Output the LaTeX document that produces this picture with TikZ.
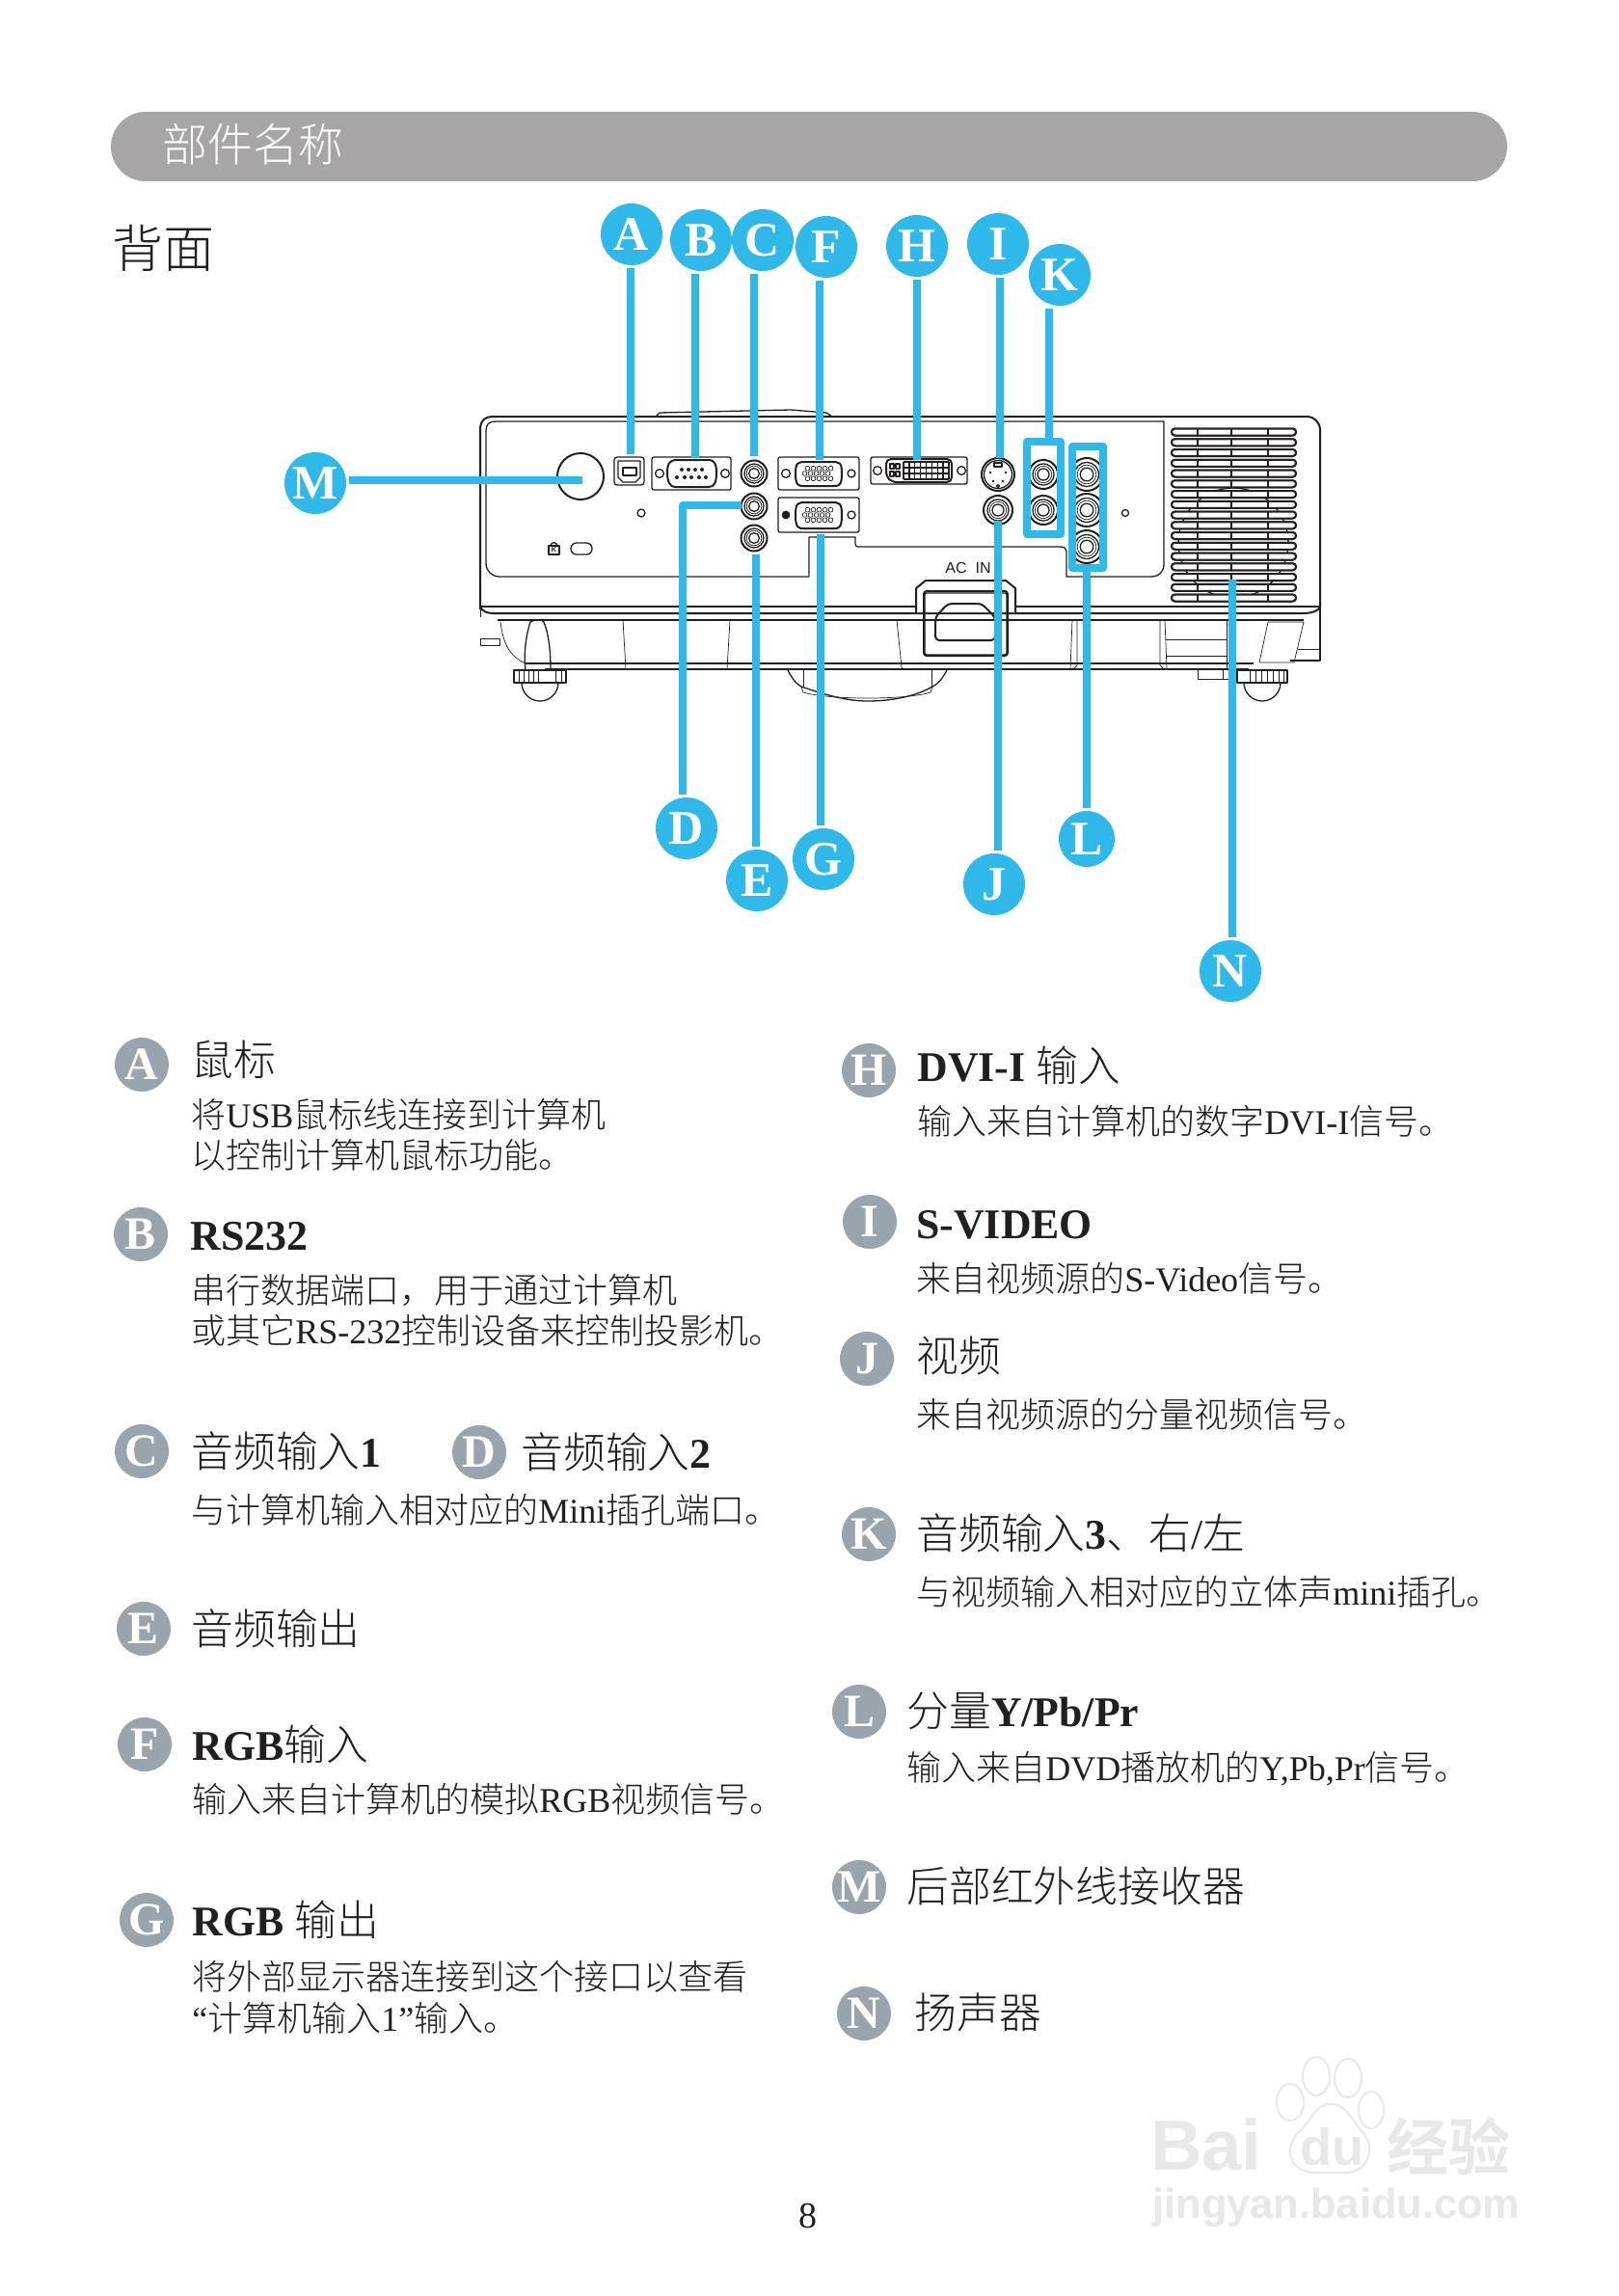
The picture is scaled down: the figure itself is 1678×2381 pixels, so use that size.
\documentclass[tikz,border=0pt]{standalone}
\usepackage{fontspec}
\setmainfont{Liberation Serif}
\newfontfamily\cjk{Noto Sans CJK SC Light}
\newfontfamily\hlv{Liberation Sans}
\newcommand{\zh}[1]{{\cjk #1}}
\definecolor{bluec}{HTML}{2FB8EA}
\definecolor{grayc}{HTML}{9AA4AD}
\definecolor{barc}{HTML}{A7A5A6}
\definecolor{inkc}{HTML}{231F20}
\definecolor{markc}{HTML}{E8E8E8}
\tikzset{
  bluedot/.style={circle,fill=bluec,text=white,minimum size=32pt,inner sep=0pt,outer sep=1.5pt,font=\fontsize{25}{25}\selectfont\bfseries},
  graydot/.style={circle,fill=grayc,text=white,minimum size=28pt,inner sep=0pt,font=\fontsize{24}{24}\selectfont\bfseries},
  link/.style={draw=bluec,line width=3.8pt},
  thick line/.style={draw=inkc,line width=1pt},
  mid line/.style={draw=inkc,line width=.65pt},
  thin line/.style={draw=inkc,line width=.35pt},
  headtext/.style={anchor=mid west,inner sep=0pt,xshift=-.5pt,yshift=-6pt,text=inkc,font=\fontsize{21.9}{21.9}\selectfont},
  bodytext/.style={anchor=mid west,inner sep=0pt,xshift=-.5pt,yshift=-4.5pt,text=inkc,font=\fontsize{18}{18}\selectfont}
}
% an audio or video jack: centre x, centre y, radius
\newcommand{\jackport}[3]{%
  \fill[white] (#1,#2) circle[radius=#3*.5pt];
  \draw[thick line] (#1,#2) circle[radius=#3*.5pt];
  \draw[mid line] (#1,#2) circle[radius=#3*.37pt];
  \draw[thin line] (#1,#2) circle[radius=#3*.29pt];
  \draw[mid line] (#1,#2) circle[radius=#3*.2pt];
}
% a plate with two screws and a VGA shell: left, top, right, bottom
\newcommand{\vgaport}[4]{%
  \draw[mid line,rounded corners=1pt] (#1,#2) rectangle (#3,#4);
  \draw[thick line] (#1+18,{(#2+#4)/2+1}) .. controls (#1+18,#2+5) and (#1+20,#2+5) .. (#1+30,#2+5) -- (#3-30,#2+5)
     .. controls (#3-20,#2+5) and (#3-18,#2+5) .. (#3-18,{(#2+#4)/2+1}) .. controls (#3-18,#4-4) and (#3-22,#4-4) .. (#3-26,#4-4)
     -- (#1+26,#4-4) .. controls (#1+22,#4-4) and (#1+18,#4-4) .. cycle;
  \foreach \r/\o in {-5.3/0,0/-3,5.3/0}
    \foreach \c in {0,1,2,3,4}
      \draw[thin line] ({(#1+#3)/2-12+\c*6+\o+0.5},{(#2+#4)/2+\r}) circle[radius=1.2pt];
  \draw[mid line] (#3-8,{(#2+#4)/2}) circle[radius=2pt];
}
\begin{document}
\begin{tikzpicture}[x=0.5pt,y=-0.5pt,line join=round]
\useasboundingbox (0,0) rectangle (1678,2381);
\fill[white] (0,0) rectangle (1678,2381);

% header
\fill[barc,rounded corners=18pt] (115,116) rectangle (1563,188);
\node[anchor=mid west,inner sep=0pt,yshift=-6.8pt,text=white,font=\fontsize{23.5}{23.5}\selectfont] (title) at (168,149) {\zh{部件名称}};
\node[anchor=mid west,inner sep=0pt,yshift=-7.5pt,text=inkc,font=\fontsize{26.5}{26.5}\selectfont] (sub) at (116,258) {\zh{背面}};

% projector body
\draw[mid line] (680,432) -- (684,428) -- (820,425) -- (857,428) -- (863,432);
\draw[thick line] (498,632) -- (498,446) .. controls (498,436) and (503,432) .. (512,432) -- (1355,432) .. controls (1363,432) and (1369,438) .. (1369,446) -- (1369,630);
\draw[mid line] (504,447) .. controls (504,440) and (507,437) .. (514,437) -- (1207,437) -- (1207,585) .. controls (1207,593) and (1202,598) .. (1193,598) -- (1106,598) -- (1106,572) .. controls (1106,569) and (1104,567) .. (1100,567) -- (890,567) .. controls (888,567) and (887,566) .. (887,564) -- (887,557) -- (839,557) -- (839,598) -- (518,598) .. controls (510,598) and (504,592) .. (504,584) -- cycle;
\draw[thick line] (498,629) -- (1369,629);
\draw[thick line] (498,630) .. controls (501,634) and (505,636) .. (512,636) -- (1350,636) .. controls (1360,636) and (1366,634) .. (1369,630);
\draw[mid line] (516,643) -- (1352,643);
\draw[mid line] (545,688) -- (1300,688);
\draw[mid line] (565,694) -- (1295,694);
\draw[thin line] (498,632) -- (498,640);
\draw[mid line] (1369,630) -- (1369,685) -- (1338,685);
\draw[thin line] (1346,673) -- (1369,673);
\draw[thin line] (498,662) rectangle (518,669);
% ribs
\draw[thin line] (646,643) -- (649,694);
\draw[thin line] (757,643) -- (754,694);
\draw[thin line] (930,643) -- (935,692) -- (937,694);
\draw[thin line] (1112,643) -- (1110,694);
\draw[thin line] (1117,643) -- (1117,690) -- (1113,694);
\draw[thin line] (1203,643) -- (1203,690) -- (1207,694);
\draw[thin line] (1208,643) -- (1210,694);
\draw[thin line] (1209,663) -- (1273,663);
\draw[thin line] (1209,680) -- (1273,680);
\draw[thin line] (1272,643) -- (1272,694);
% left foot
\draw[thin line] (519,645) .. controls (522,668) and (528,680) .. (545,688);
\draw[mid line] (545,695) .. controls (543,680) and (545,660) .. (550,645) .. controls (555,642) and (562,642) .. (564,645) .. controls (570,660) and (571,680) .. (571,695);
\fill[white] (533,695) rectangle (587,708);
\draw[mid line] (541,708) arc[start angle=180,end angle=0,x radius=19,y radius=19];
\draw[mid line] (533,695) rectangle (587,708);
\foreach \x in {538,543,548,553,558,576,582} \draw[thin line] (\x,695) -- (\x,708);
% right foot
\draw[thin line] (1315,645) -- (1352,645) -- (1342,687) -- (1306,687) -- cycle;
\draw[thin line] (1242,695) -- (1242,704) -- (1283,704);
\draw[thin line] (1268,695) -- (1268,704);
\draw[mid line] (1290,708) arc[start angle=180,end angle=0,x radius=19,y radius=19];
\draw[mid line] (1283,695) rectangle (1335,708);
\foreach \x in {1296,1302,1308,1314,1320,1326,1331} \draw[thin line] (\x,695) -- (\x,708);
% lens
\draw[mid line] (817,695) .. controls (822,705) and (827,710) .. (831,712) .. controls (860,722) and (880,727) .. (900,727) .. controls (925,727) and (950,722) .. (967,712) .. controls (975,708) and (978,702) .. (982,695);
\draw[thin line] (831,712) -- (833,718) .. controls (860,726) and (940,726) .. (965,718) -- (967,712);
\draw[thin line] (833,695) -- (833,712);
\draw[thin line] (966,695) -- (966,712);

% mains inlet
\node[anchor=mid,inner sep=0pt,text=inkc,font=\hlv\fontsize{8}{8}\selectfont] (acin) at (1004,590) {AC\ \ IN};
\draw[thick line,fill=white] (950,635) -- (950,610) -- (960,602) -- (1043,602) -- (1053,610) -- (1053,635);
\draw[thick line,rounded corners=1.5pt] (958,613) rectangle (1045,680);
\draw[mid line,rounded corners=1pt] (959,615) rectangle (1044,679);
\draw[thick line,rounded corners=2pt] (970,640) -- (983,626) -- (1018,626) -- (1032,640) -- (1032,664) -- (970,664) -- cycle;

% speaker and vents
\foreach \i in {0,...,16} {
  \draw[thick line,fill=white,rounded corners=1.7pt] (1215,{444.5+\i*10.75}) rectangle (1344,{451.5+\i*10.75});
}
\draw[mid line] (1279,563) circle[radius=57];
\foreach \i in {0,...,16} {
  \draw[thick line,fill=white,rounded corners=1.7pt] (1215,{444.5+\i*10.75}) rectangle (1344,{451.5+\i*10.75});
}
\foreach \x in {1242,1277,1315}
  \foreach \i in {0,...,16}
    \draw[mid line] (\x,{444.5+\i*10.75}) -- (\x,{451.5+\i*10.75});

% IR window, lock, dots
\draw[thick line] (602,494) circle[radius=24];
\draw[mid line] (665,532) circle[radius=4];
\draw[mid line] (1167,532) circle[radius=3.5];
\draw[mid line] (569,566) rectangle (580,575);
\draw[mid line] (571,566) arc[start angle=180,end angle=0,x radius=3.4,y radius=-3.4];
\node[inner sep=0pt,text=inkc,font=\hlv\bfseries\fontsize{3.6}{4}\selectfont] (lockk) at (574.5,570.5) {K};
\draw[mid line,rounded corners=2.9pt] (592,563) rectangle (614,575);

% USB
\draw[mid line,rounded corners=1.5pt] (637,474) rectangle (668,503);
\draw[mid line] (641,478) -- (664,478) -- (664,495) -- (659,500) -- (646,500) -- (641,495) -- cycle;
\draw[mid line] (646,485) rectangle (660,493);

% RS232
\draw[mid line,rounded corners=1pt] (676,474) rectangle (758,508);
\draw[mid line] (684,491) circle[radius=2.2pt];
\draw[mid line] (752,491) circle[radius=2.2pt];
\draw[thick line] (692,490) .. controls (692,480) and (695,477) .. (702,477) -- (735,477) .. controls (740,477) and (743,480) .. (743,490) .. controls (743,500) and (741,505) .. (735,505) -- (700,505) .. controls (695,505) and (692,500) .. cycle;
\foreach \x in {707,714,721,728} \fill[inkc] (\x,487) circle[radius=2];
\foreach \x in {702,710,717,725,732} \fill[inkc] (\x,495) circle[radius=2];

% audio
\jackport{782}{491}{13.5}
\jackport{782}{525}{13.5}
\jackport{782}{558}{13.5}

% RGB in and out
\vgaport{807}{474}{891}{508}
\draw[mid line] (815,491) circle[radius=2.2pt];
\vgaport{807}{516}{891}{552}
\fill[inkc] (815,534) circle[radius=2.2pt];

% DVI
\draw[mid line,rounded corners=1pt] (903,474) rectangle (1003,502);
\draw[mid line] (910,488) circle[radius=2.2pt];
\draw[mid line] (997,488) circle[radius=2.2pt];
\draw[thick line,rounded corners=2.5pt] (919,476) -- (987,476) -- (987,500) -- (925,500) -- (919,494) -- cycle;
\foreach \r in {0,1,2,3} \draw[mid line] (937,{479+\r*6}) -- (984,{479+\r*6});
\foreach \c in {0,...,8} \draw[mid line] ({937+\c*5.87},479) -- ({937+\c*5.87},497);
\draw[mid line] (923,481) rectangle (927,486);
\draw[mid line] (929,481) rectangle (933,486);
\draw[mid line] (923,489) rectangle (927,494);
\draw[mid line] (929,489) rectangle (933,494);

% S-video
\draw[thick line] (1035,492) circle[radius=17];
\draw[mid line] (1035,492) circle[radius=14.5];
\draw[mid line] (1031,480) rectangle (1039,484);
\fill[inkc] (1027,490) circle[radius=1.4];
\fill[inkc] (1043,490) circle[radius=1.4];
\fill[inkc] (1030,499) circle[radius=1.4];
\fill[inkc] (1040,499) circle[radius=1.4];
\draw[mid line] (1035,504) circle[radius=1.5];

% video and stereo jacks
\jackport{1035}{529}{15}
\jackport{1082}{492}{15}
\jackport{1082}{529}{15}
\jackport{1127}{492}{17}
\jackport{1127}{529}{17}
\jackport{1127}{567}{17}

% port frames
\draw[link] (1065,458) rectangle (1100,554);
\draw[link] (1112,463) rectangle (1144,589);

% end points of the leaders
\coordinate (pA) at (654,471);
\coordinate (pB) at (721,475);
\coordinate (pC) at (782,473);
\coordinate (pD) at (769,524);
\coordinate (kD) at (708,524);
\coordinate (pE) at (784,575);
\coordinate (pF) at (850,477);
\coordinate (pG) at (851,554);
\coordinate (pH) at (951,477);
\coordinate (pI) at (1037,475);
\coordinate (pJ) at (1035,540);
\coordinate (pK) at (1088,455);
\coordinate (pL) at (1127,590);
\coordinate (pM) at (604,498);
\coordinate (pN) at (1278,601);

% callout dots
\node[bluedot] (cA) at (655,243) {A};
\node[bluedot] (cB) at (727,249) {B};
\node[bluedot] (cC) at (791,249) {C};
\node[bluedot] (cF) at (857,256) {F};
\node[bluedot] (cH) at (951,255) {H};
\node[bluedot] (cI) at (1035,253) {I};
\node[bluedot] (cK) at (1099,285) {K};
\node[bluedot] (cM) at (327,501) {M};
\node[bluedot] (cD) at (712,859) {D};
\node[bluedot] (cE) at (785,913) {E};
\node[bluedot] (cG) at (854,891) {G};
\node[bluedot] (cJ) at (1031,917) {J};
\node[bluedot,minimum size=29pt] (cL) at (1127,870) {L};
\node[bluedot] (cN) at (1276,1007) {N};

% leaders
\draw[link] (cA.south -| pA) -- (pA);
\draw[link] (cB.south -| pB) -- (pB);
\draw[link] (cC.south -| pC) -- (pC);
\draw[link] (cF.south -| pF) -- (pF);
\draw[link] (cH.south -| pH) -- (pH);
\draw[link] (cI.south -| pI) -- (pI);
\draw[link] (cK.south -| pK) -- (pK);
\draw[link] (cM.east |- pM) -- (pM);
\draw[link] (cD.north -| kD) -- (kD) -- (pD);
\draw[link] (cE.north -| pE) -- (pE);
\draw[link] (cG.north -| pG) -- (pG);
\draw[link] (cJ.north -| pJ) -- (pJ);
\draw[link] (cL.north -| pL) -- (pL);
\draw[link] (cN.north -| pN) -- (pN);

% legend, left column
\node[graydot] (lA) at (147,1104) {A};
\node[headtext] (tA) at (199,1099) {\zh{鼠标}};
\node[bodytext] (tA1) at (199,1156) {\zh{将}USB\zh{鼠标线连接到计算机}};
\node[bodytext] (tA2) at (199,1198) {\zh{以控制计算机鼠标功能。}};
\node[graydot] (lB) at (146,1280) {B};
\node[headtext,font=\fontsize{22}{22}\selectfont\bfseries] (tB) at (198,1280) {RS232};
\node[bodytext] (tB1) at (199,1338) {\zh{串行数据端口，用于通过计算机}};
\node[bodytext] (tB2) at (199,1380) {\zh{或其它}RS-232\zh{控制设备来控制投影机。}};
\node[graydot] (lC) at (147,1505) {C};
\node[headtext] (tC) at (199,1505) {\zh{音频输入}\textbf{1}};
\node[graydot] (lD) at (497,1506) {D};
\node[headtext] (tD) at (541,1506) {\zh{音频输入}\textbf{2}};
\node[bodytext] (tC1) at (199,1566) {\zh{与计算机输入相对应的}Mini\zh{插孔端口。}};
\node[graydot] (lE) at (149,1689) {E};
\node[headtext] (tE) at (199,1689) {\zh{音频输出}};
\node[graydot] (lF) at (150,1809) {F};
\node[headtext] (tF) at (200,1809) {\textbf{RGB}\zh{输入}};
\node[bodytext] (tF1) at (200,1866) {\zh{输入来自计算机的模拟}RGB\zh{视频信号。}};
\node[graydot] (lG) at (152,1991) {G};
\node[headtext] (tG) at (200,1991) {\textbf{RGB}\ \zh{输出}};
\node[bodytext] (tG1) at (200,2050) {\zh{将外部显示器连接到这个接口以查看}};
\node[bodytext] (tG2) at (200,2093) {“\zh{计算机输入}1”\zh{输入。}};

% legend, right column
\node[graydot] (lH) at (901,1110) {H};
\node[headtext] (tH) at (952,1105) {\textbf{DVI-I}\ \zh{输入}};
\node[bodytext] (tH1) at (952,1163) {\zh{输入来自计算机的数字}DVI-I\zh{信号。}};
\node[graydot] (lI) at (902,1267) {I};
\node[headtext] (tI) at (951,1268) {\textbf{S-VIDEO}};
\node[bodytext] (tI1) at (951,1326) {\zh{来自视频源的}S-Video\zh{信号。}};
\node[graydot] (lJ) at (899,1409) {J};
\node[headtext] (tJ) at (951,1406) {\zh{视频}};
\node[bodytext] (tJ1) at (951,1467) {\zh{来自视频源的分量视频信号。}};
\node[graydot] (lK) at (901,1591) {K};
\node[headtext] (tK) at (951,1590) {\zh{音频输入}\textbf{3}\zh{、右}/\zh{左}};
\node[bodytext] (tK1) at (951,1651) {\zh{与视频输入相对应的立体声}mini\zh{插孔。}};
\node[graydot] (lL) at (891,1775) {L};
\node[headtext] (tL) at (941,1774) {\zh{分量}\textbf{Y/Pb/Pr}};
\node[bodytext] (tL1) at (941,1833) {\zh{输入来自}DVD\zh{播放机的}Y,Pb,Pr\zh{信号。}};
\node[graydot] (lM) at (891,1957) {M};
\node[headtext] (tM) at (941,1956) {\zh{后部红外线接收器}};
\node[graydot] (lN) at (896,2088) {N};
\node[headtext] (tN) at (949,2087) {\zh{扬声器}};

% page number
\node[inner sep=0pt,text=inkc,font=\fontsize{19}{19}\selectfont] (page) at (838,2298) {8};

% watermark
\tikzset{markshape/.style={draw=markc,line width=1pt,fill=white}}
\path[markshape] (1365,2153) ellipse[x radius=14,y radius=20];
\path[markshape] (1398,2155) ellipse[x radius=14,y radius=20];
\path[markshape] (1338,2180) ellipse[x radius=14,y radius=19];
\path[markshape] (1422,2188) ellipse[x radius=13,y radius=19];
\path[markshape] (1380,2182) .. controls (1395,2182) and (1400,2195) .. (1412,2210) .. controls (1428,2225) and (1420,2253) .. (1395,2253) -- (1365,2253) .. controls (1335,2253) and (1330,2225) .. (1350,2208) .. controls (1362,2195) and (1365,2182) .. cycle;
\node[anchor=base west,inner sep=0pt,text=markc,font=\hlv\bfseries\fontsize{37}{37}\selectfont] (wm1) at (1193,2250) {Bai};
\node[anchor=base,inner sep=0pt,text=markc,font=\hlv\bfseries\fontsize{27}{27}\selectfont] (wm2) at (1381,2245) {du};
\node[anchor=west,inner sep=0pt,yshift=-3pt,text=markc,font=\cjk\bfseries\fontsize{32}{32}\selectfont] (wm3) at (1438,2220) {经验};
\node[anchor=base west,inner sep=0pt,text=markc,font=\hlv\bfseries\fontsize{21.7}{21.7}\selectfont] (wm4) at (1195,2300) {jingyan.baidu.com};
\end{tikzpicture}
\end{document}
